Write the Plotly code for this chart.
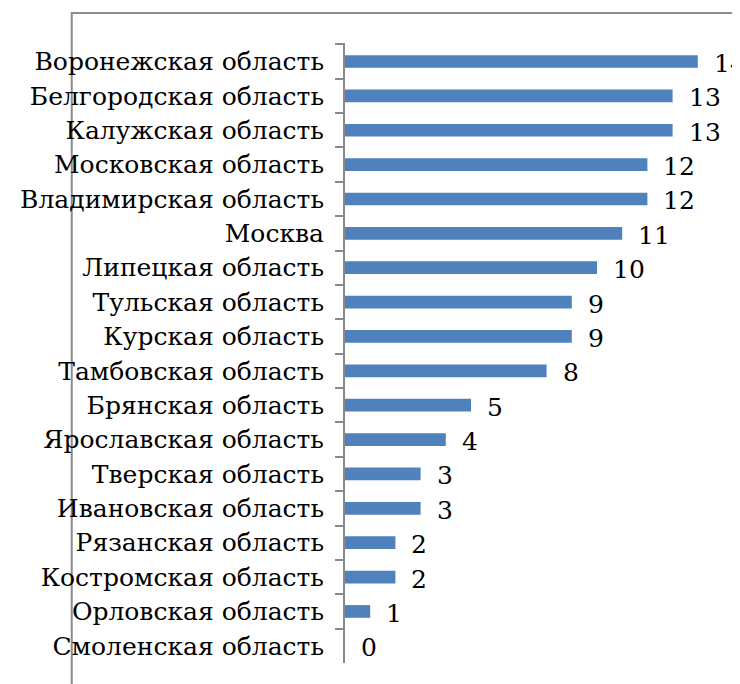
import plotly.graph_objects as go

regions = [
    "Воронежская область", "Белгородская область", "Калужская область",
    "Московская область", "Владимирская область", "Москва",
    "Липецкая область", "Тульская область", "Курская область",
    "Тамбовская область", "Брянская область", "Ярославская область",
    "Тверская область", "Ивановская область", "Рязанская область",
    "Костромская область", "Орловская область", "Смоленская область",
]
values = [14, 13, 13, 12, 12, 11, 10, 9, 9, 8, 5, 4, 3, 3, 2, 2, 1, 0]

W, H = 740, 684
OFF = 8  # page body margin
ml, mt = 309 - OFF, 43 - OFF
pw, ph = 413.6, 620
mr = W - ml - pw
mb = H - mt - ph
FS = 25
FAMILY = "DejaVu Serif"

fig = go.Figure()
fig.add_trace(go.Bar(
    x=values, y=regions, orientation="h",
    marker=dict(color="#4F81BD", line=dict(width=0)),
    width=0.37, hoverinfo="skip",
))

for r, v in zip(regions, values):
    fig.add_annotation(x=v, y=r, xref="x", yref="y", text=str(v), showarrow=False,
                       xanchor="left", xshift=14, yshift=-2,
                       font=dict(family=FAMILY, size=FS, color="black"))

fig.add_shape(type="rect", xref="paper", yref="paper",
              x0=(10 - OFF - ml) / pw, x1=(W + 20 - ml) / pw,
              y0=-(mb + 20) / ph, y1=1 + (mt - (13 - OFF)) / ph,
              line=dict(color="#8c8c8c", width=2), layer="below")

fig.update_layout(
    width=W, height=H,
    margin=dict(l=ml, r=mr, t=mt, b=mb, pad=0),
    paper_bgcolor="white", plot_bgcolor="white",
    showlegend=False,
    font=dict(family=FAMILY, size=FS, color="black"),
    xaxis=dict(range=[0, 15], visible=False, fixedrange=True),
    yaxis=dict(autorange="reversed", type="category",
               showline=True, linecolor="#888888", linewidth=2,
               ticks="outside", ticklen=8, tickcolor="#888888", tickwidth=2,
               tickson="boundaries", ticklabelstandoff=14,
               showgrid=False, zeroline=False,
               tickfont=dict(family=FAMILY, size=FS, color="black")),
)

fig.write_html("out.html")
